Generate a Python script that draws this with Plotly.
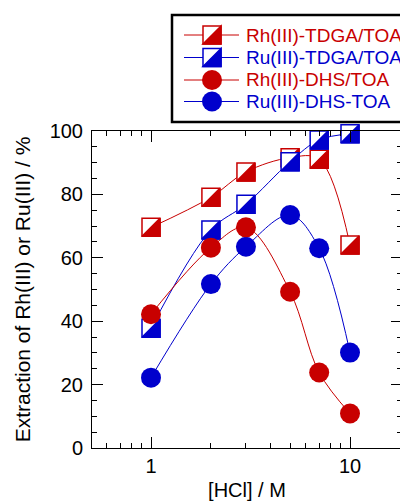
import plotly.graph_objects as go

# ---------------- data ----------------
hcl = [1, 2, 3, 5, 7, 10]
rh_tdga = [69.6, 79.1, 87.1, 91.6, 91.1, 64.0]
ru_tdga = [37.8, 68.8, 76.9, 90.3, 97.2, 99.1]
rh_dhs = [42.2, 63.2, 69.6, 49.3, 23.8, 10.9]
ru_dhs = [22.2, 51.7, 63.5, 73.5, 63.0, 30.1]
series_names = ["Rh(III)-TDGA/TOA", "Ru(III)-TDGA/TOA", "Rh(III)-DHS/TOA", "Ru(III)-DHS-TOA"]
x_tickvals = [1, 10]
x_ticktext = ["1", "10"]
x_minor = [0.6, 0.7, 0.8, 0.9, 2, 3, 4, 5, 6, 7, 8, 9]

RED = "#c80000"
BLUE = "#0000cc"
FONT = "Liberation Sans, Arial, sans-serif"

OFF = 8                      # page body margin of the html page
W_FIG, H_FIG = 400, 493
ML, MR, MT, MB = 84, 6, 123, 53
PW = W_FIG - ML - MR
PH = H_FIG - MT - MB
XR = [-0.2965, 1.2613]
YR = [0, 100]
SQ = 18            # square marker side
TRI = SQ / 0.9     # triangle marker size so legs equal square side
D = SQ / 6         # pixel offset that puts the triangle into the lower-right half
dxl = D * (XR[1] - XR[0]) / PW
dyl = D * (YR[1] - YR[0]) / PH
XR_S = [XR[0] - dxl, XR[1] - dxl]
YR_S = [YR[0] + dyl, YR[1] + dyl]

fig = go.Figure()

def square_trace(y, color, name, xa, ya):
    return go.Scatter(x=hcl, y=y, name=name, mode="lines+markers", xaxis=xa, yaxis=ya,
                      line=dict(color=color, width=1, shape="spline", smoothing=1),
                      marker=dict(symbol="square", size=SQ, color="white",
                                  line=dict(color=color, width=1.5)),
                      cliponaxis=False, showlegend=False)

def tri_trace(y, color, name, xa, ya):
    return go.Scatter(x=hcl, y=y, name=name, mode="markers", xaxis=xa, yaxis=ya,
                      marker=dict(symbol="triangle-se", size=TRI, color=color,
                                  line=dict(color=color, width=1.5)),
                      cliponaxis=False, showlegend=False, hoverinfo="skip")

def circle_trace(y, color, name, xa, ya):
    return go.Scatter(x=hcl, y=y, name=name, mode="lines+markers", xaxis=xa, yaxis=ya,
                      line=dict(color=color, width=1, shape="spline", smoothing=1),
                      marker=dict(symbol="circle", size=20, color=color, line=dict(width=0)),
                      cliponaxis=False, showlegend=False)

fig.add_trace(square_trace(rh_tdga, RED, series_names[0], "x", "y"))
fig.add_trace(tri_trace(rh_tdga, RED, series_names[0], "x2", "y2"))
fig.add_trace(square_trace(ru_tdga, BLUE, series_names[1], "x3", "y3"))
fig.add_trace(tri_trace(ru_tdga, BLUE, series_names[1], "x4", "y4"))
fig.add_trace(circle_trace(ru_dhs, BLUE, series_names[3], "x5", "y5"))
fig.add_trace(circle_trace(rh_dhs, RED, series_names[2], "x5", "y5"))

axis_common = dict(showline=True, linecolor="black", linewidth=1, mirror="allticks",
                   ticks="inside", ticklen=11, tickcolor="black", tickwidth=1,
                   showgrid=False, zeroline=False,
                   tickfont=dict(family=FONT, size=20, color="black"))

layout = dict(
    width=W_FIG, height=H_FIG,
    margin=dict(l=ML, r=MR, t=MT, b=MB, autoexpand=False),
    paper_bgcolor="white", plot_bgcolor="white",
    showlegend=False,
    font=dict(family=FONT, color="black"),
    xaxis=dict(type="log", range=XR, tickvals=x_tickvals, ticktext=x_ticktext,
               minor=dict(ticks="inside", ticklen=5, tickcolor="black", tickvals=x_minor),
               title=dict(text="[HCl] / M", font=dict(family=FONT, size=20, color="black"), standoff=8),
               ticklabelstandoff=0,
               **axis_common),
    yaxis=dict(range=YR, dtick=20,
               minor=dict(ticks="inside", ticklen=5, tickcolor="black", dtick=5),
               title=dict(text="Extraction of Rh(III) or Ru(III) / %",
                          font=dict(family=FONT, size=21, color="black"), standoff=13),
               ticklabelstandoff=4,
               **axis_common),
)
for i in range(2, 6):
    shifted = i in (2, 4)
    layout[f"xaxis{i}"] = dict(type="log", range=XR_S if shifted else XR, overlaying="x",
                               anchor=f"y{i}", visible=False)
    layout[f"yaxis{i}"] = dict(range=YR_S if shifted else YR, overlaying="y",
                               anchor=f"x{i}", visible=False)
fig.update_layout(**layout)

# ---------------- hand-drawn legend (window pixel positions) ----------------
def px_x(p):
    return (p - OFF - ML) / PW

def px_y(p):
    return (OFF + H_FIG - MB - p) / PH

shapes = [dict(type="rect", xref="paper", yref="paper", x0=px_x(172), x1=px_x(415),
               y0=px_y(122), y1=px_y(15), line=dict(color="black", width=2.5),
               fillcolor="white", layer="above")]
annotations = []
row_y = [35, 57.5, 80, 101.5]
kinds = ["sq", "sq", "ci", "ci"]
colors = [RED, BLUE, RED, BLUE]
h = SQ / 2
for ry, kind, col, nm in zip(row_y, kinds, colors, series_names):
    yy = px_y(ry)
    shapes.append(dict(type="line", xref="paper", yref="paper", x0=px_x(184), x1=px_x(239),
                       y0=yy, y1=yy, line=dict(color=col, width=1), layer="above"))
    if kind == "sq":
        shapes.append(dict(type="rect", xref="paper", yref="paper", xsizemode="pixel",
                           ysizemode="pixel", xanchor=px_x(212), yanchor=yy,
                           x0=-h, x1=h, y0=-h, y1=h, fillcolor="white",
                           line=dict(color=col, width=1.5), layer="above"))
        shapes.append(dict(type="path", xref="paper", yref="paper", xsizemode="pixel",
                           ysizemode="pixel", xanchor=px_x(212), yanchor=yy,
                           path=f"M {h},{h} L {h},{-h} L {-h},{-h} Z", fillcolor=col,
                           line=dict(color=col, width=1.5), layer="above"))
    else:
        shapes.append(dict(type="circle", xref="paper", yref="paper", xsizemode="pixel",
                           ysizemode="pixel", xanchor=px_x(212), yanchor=yy,
                           x0=-10, x1=10, y0=-10, y1=10, fillcolor=col,
                           line=dict(color=col, width=0), layer="above"))
    annotations.append(dict(text=nm, xref="paper", yref="paper", x=px_x(244), y=yy,
                            xanchor="left", yanchor="middle", showarrow=False,
                            font=dict(family=FONT, size=19, color=col)))

fig.update_layout(shapes=shapes, annotations=annotations)
fig.write_html("out.html")
